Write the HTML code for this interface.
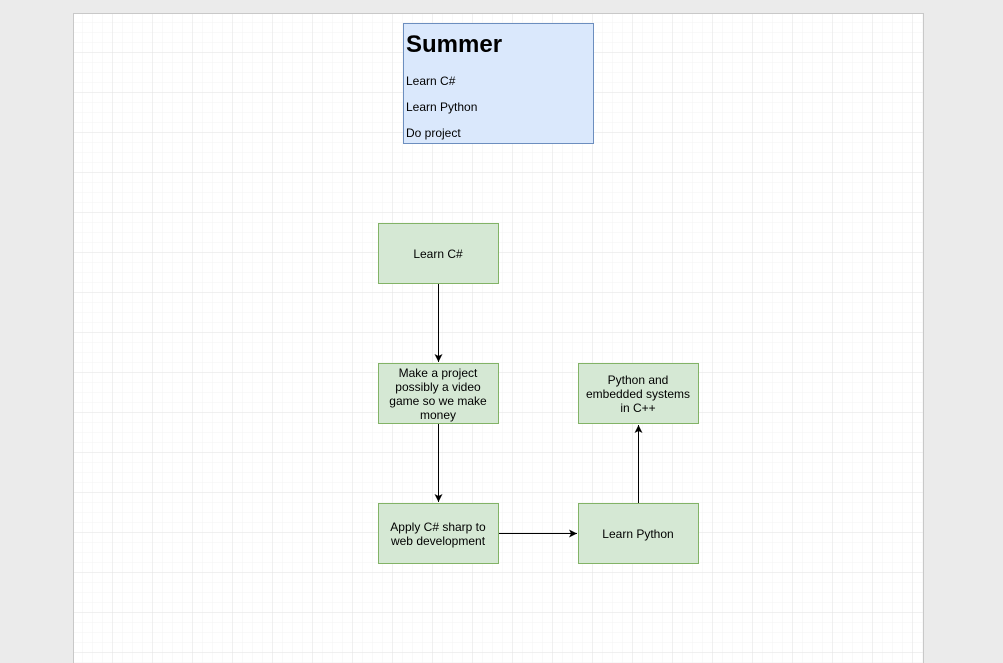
<!DOCTYPE html>
<html><head><style>
body{margin:0;width:1003px;height:663px;background:#ebebeb;overflow:hidden;font-family:"Liberation Sans",Arial,sans-serif;}
</style></head><body>
<svg width="1003" height="663" xmlns="http://www.w3.org/2000/svg" style="position:absolute;left:0;top:0">
<defs>
<pattern id="minor" x="73" y="13" width="10" height="10" patternUnits="userSpaceOnUse"><path d="M10 0V10M0 10H10" fill="none" stroke="#f3f3f3" stroke-width="1"/></pattern>
<pattern id="major" x="73" y="13" width="40" height="40" patternUnits="userSpaceOnUse"><path d="M40 0V40M0 40H40" fill="none" stroke="#e2e2e2" stroke-width="1"/></pattern>
<marker id="a" markerWidth="10" markerHeight="10" refX="8" refY="5" orient="auto" markerUnits="userSpaceOnUse"><path d="M0 1L8 5L0 9L2 5Z" fill="#000"/></marker>
</defs>
<rect x="73.5" y="13.5" width="850" height="660" fill="#fff" stroke="#c8c8c8"/>
<rect x="74" y="14" width="849" height="660" fill="url(#minor)"/>
<rect x="74" y="14" width="849" height="660" fill="url(#major)"/>
<rect x="403.5" y="23.5" width="190" height="120" fill="#dae8fc" stroke="#6c8ebf"/>
<text x="406" y="52" font-size="24" font-weight="bold">Summer</text>
<text x="406" y="85" font-size="12">Learn C#</text>
<text x="406" y="111" font-size="12">Learn Python</text>
<text x="406" y="137" font-size="12">Do project</text>
<g fill="#d5e8d4" stroke="#82b366">
<rect x="378.5" y="223.5" width="120" height="60"/>
<rect x="378.5" y="363.5" width="120" height="60"/>
<rect x="378.5" y="503.5" width="120" height="60"/>
<rect x="578.5" y="503.5" width="120" height="60"/>
<rect x="578.5" y="363.5" width="120" height="60"/>
</g>
<g font-size="12" text-anchor="middle" fill="#000">
<text x="438" y="258">Learn C#</text>
<text x="438" y="377">Make a project</text>
<text x="438" y="391">possibly a video</text>
<text x="438" y="405">game so we make</text>
<text x="438" y="419">money</text>
<text x="438" y="531">Apply C# sharp to</text>
<text x="438" y="545">web development</text>
<text x="638" y="538">Learn Python</text>
<text x="638" y="384">Python and</text>
<text x="638" y="398">embedded systems</text>
<text x="638" y="412">in C++</text>
</g>
<g stroke="#000" stroke-width="1" fill="none" marker-end="url(#a)">
<path d="M438.5 284V362"/>
<path d="M438.5 424V502"/>
<path d="M499 533.5H577"/>
<path d="M638.5 503V425"/>
</g>
</svg>
</body></html>
